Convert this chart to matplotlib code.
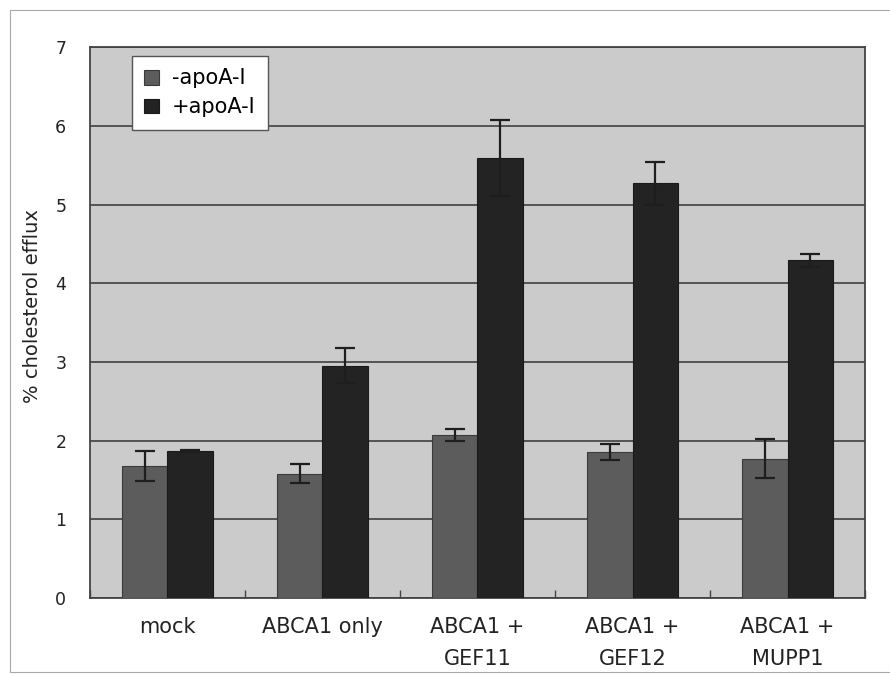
import matplotlib
matplotlib.use("Agg")
import matplotlib.pyplot as plt
import numpy as np
from matplotlib.patches import Rectangle

matplotlib.rcParams['font.family'] = ['DejaVu Sans']

# data
groups = ["mock", "ABCA1 only", "ABCA1 +\nGEF11", "ABCA1 +\nGEF12", "ABCA1 +\nMUPP1"]
minus_apoA = [1.68, 1.58, 2.07, 1.85, 1.77]
minus_err = [0.19, 0.12, 0.07, 0.10, 0.25]
plus_apoA = [1.87, 2.95, 5.59, 5.27, 4.29]
plus_err = [0.01, 0.22, 0.48, 0.27, 0.08]
yticks = [0, 1, 2, 3, 4, 5, 6, 7]

fig = plt.figure(figsize=(8.9, 6.74), dpi=100)
fig.patch.set_facecolor("white")
# thin scan frame round the figure
fig.patches.append(Rectangle((0.011, 0.003), 1.2, 0.982, transform=fig.transFigure,
                             fill=False, edgecolor="#a8a8a8", linewidth=0.8))

ax = fig.add_axes([0.101, 0.113, 0.871, 0.817])
ax.set_facecolor("#cbcbcb")

x = np.arange(len(groups))
w = 0.295
err_kw = dict(ecolor="#1e1e1e", elinewidth=1.6, capsize=7, capthick=1.6)
ax.bar(x - w / 2, minus_apoA, w, yerr=minus_err, color="#5c5c5c", edgecolor="#3a3a3a",
       linewidth=0.8, error_kw=err_kw, label="-apoA-I", zorder=3)
ax.bar(x + w / 2, plus_apoA, w, yerr=plus_err, color="#232323", edgecolor="#1a1a1a",
       linewidth=0.8, error_kw=err_kw, label="+apoA-I", zorder=3)

ax.set_ylim(0, 7)
ax.set_xlim(-0.5, len(groups) - 0.5)
ax.set_yticks(yticks)
ax.yaxis.grid(True, color="#4a4a4a", linewidth=1.3, zorder=1)
ax.set_axisbelow(True)

ax.set_xticks(x)
ax.set_xticklabels(groups, fontsize=15, color="#222222", linespacing=1.75)
ax.set_xticks(np.arange(len(groups) + 1) - 0.5, minor=True)
ax.tick_params(axis="x", which="major", length=0, pad=14)
ax.tick_params(axis="x", which="minor", direction="in", length=6, color="#444444", width=1)
ax.tick_params(axis="y", length=0, pad=17, labelsize=12.5, labelcolor="#222222")

for s in ax.spines.values():
    s.set_color("#444444")
    s.set_linewidth(1.3)

ax.set_ylabel("% cholesterol efflux", fontsize=14, color="#222222")
ax.yaxis.set_label_coords(-0.062, 0.53)

leg = ax.legend(loc="upper left", bbox_to_anchor=(0.054, 0.984), fontsize=15,
                frameon=True, fancybox=False, framealpha=1, edgecolor="#555555",
                handlelength=0.72, handleheight=0.72, handletextpad=0.6,
                borderpad=0.6, labelspacing=0.42, borderaxespad=0)
leg.get_frame().set_linewidth(1.0)

fig.savefig("out.png", dpi=100, facecolor="white")
